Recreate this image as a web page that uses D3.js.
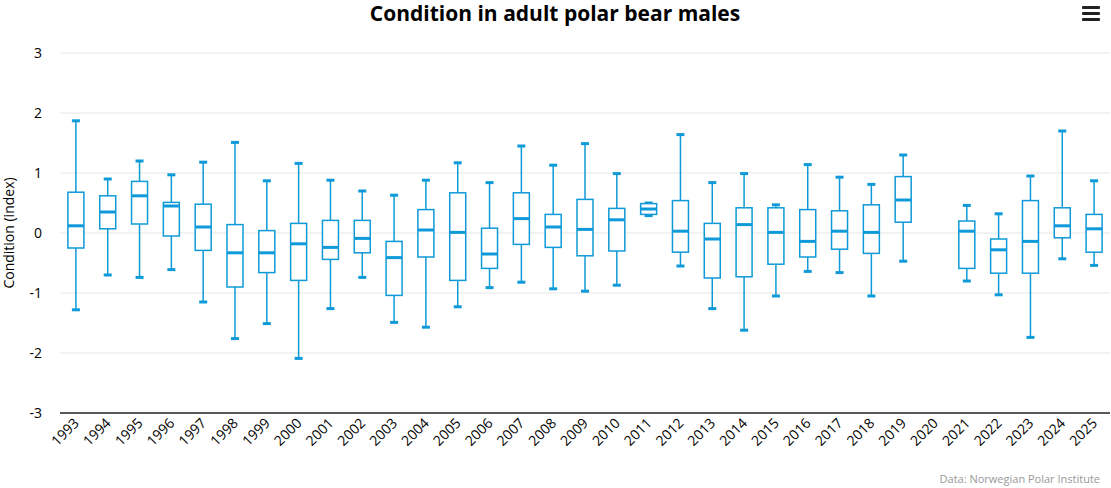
<!DOCTYPE html>
<html><head><meta charset="utf-8">
<script src="https://cdn.jsdelivr.net/npm/d3@7"></script>
<style>body{margin:0;background:#fff;font-family:"Open Sans",sans-serif}</style>
</head><body><svg id="chart" width="1111" height="488"></svg>
<script>
var years = d3.range(1993, 2026).map(String);
var high   = [1.87,0.90,1.20,0.97,1.18,1.51,0.87,1.16,0.88,0.70,0.63,0.88,1.17,0.84,1.45,1.13,1.49,0.99,0.50,1.64,0.84,0.99,0.47,1.14,0.93,0.81,1.30,null,0.46,0.32,0.95,1.70,0.87];
var q3     = [0.68,0.62,0.86,0.51,0.48,0.14,0.04,0.16,0.21,0.21,-0.14,0.39,0.67,0.08,0.67,0.31,0.56,0.41,0.49,0.54,0.16,0.42,0.42,0.39,0.37,0.47,0.94,null,0.20,-0.10,0.54,0.42,0.31];
var median = [0.12,0.35,0.62,0.45,0.10,-0.33,-0.33,-0.18,-0.24,-0.09,-0.41,0.05,0.01,-0.35,0.24,0.10,0.06,0.22,0.40,0.03,-0.10,0.14,0.01,-0.14,0.03,0.01,0.55,null,0.03,-0.28,-0.14,0.12,0.07];
var q1     = [-0.25,0.07,0.15,-0.05,-0.29,-0.90,-0.66,-0.79,-0.44,-0.33,-1.04,-0.40,-0.79,-0.59,-0.19,-0.24,-0.38,-0.30,0.31,-0.32,-0.75,-0.73,-0.52,-0.40,-0.27,-0.34,0.18,null,-0.59,-0.67,-0.67,-0.08,-0.32];
var low    = [-1.28,-0.70,-0.74,-0.61,-1.15,-1.76,-1.51,-2.09,-1.26,-0.74,-1.49,-1.57,-1.23,-0.91,-0.82,-0.93,-0.97,-0.87,0.29,-0.55,-1.26,-1.62,-1.05,-0.64,-0.66,-1.05,-0.47,null,-0.80,-1.03,-1.74,-0.43,-0.54];
var yTicks = [-3,-2,-1,0,1,2,3];

var svg = d3.select("#chart");
var col = "#0e9ad8";
var x = d3.scaleBand().domain(years).range([60, 1110]);
var y = d3.scaleLinear().domain([-3, 3]).range([413, 53]);

svg.append("text").attr("x", 555).attr("y", 21).attr("text-anchor", "middle")
  .style("font-size", "21px").style("font-weight", "bold").text("Condition in adult polar bear males");

// menu icon
svg.append("g").selectAll("rect").data([0,1,2]).enter().append("rect")
  .attr("x", 1082).attr("y", function(d){return 6 + d*6;}).attr("width", 18).attr("height", 3).attr("rx", 1).attr("fill", "#222");

svg.append("g").selectAll("line").data(yTicks.filter(function(d){return d > -3;})).enter().append("line")
  .attr("x1", 60).attr("x2", 1110).attr("y1", function(d){return y(d);}).attr("y2", function(d){return y(d);})
  .attr("stroke", "#e6e6e6");
svg.append("line").attr("x1", 60).attr("x2", 1110).attr("y1", y(-3)).attr("y2", y(-3)).attr("stroke", "#222").attr("stroke-width", 1.5);

svg.append("g").selectAll("text").data(yTicks).enter().append("text")
  .attr("x", 42).attr("y", function(d){return y(d) + 5;}).attr("text-anchor", "end")
  .style("font-size", "14px").text(function(d){return d;});

svg.append("text").attr("transform", "translate(14,233) rotate(-90)").attr("text-anchor", "middle")
  .style("font-size", "14px").text("Condition (index)");

svg.append("g").selectAll("text").data(years).enter().append("text")
  .attr("transform", function(d){return "translate(" + (x(d) + x.bandwidth()/2 + 4) + ",424) rotate(-45)";})
  .attr("text-anchor", "end").style("font-size", "14px").text(function(d){return d;});

var data = years.map(function(d, i){return {year:d, hi:high[i], q3:q3[i], med:median[i], q1:q1[i], lo:low[i]};})
  .filter(function(d){return d.med !== null;});
var g = svg.append("g").selectAll("g").data(data).enter().append("g")
  .attr("transform", function(d){return "translate(" + (x(d.year) + x.bandwidth()/2) + ",0)";});
g.append("line").attr("y1", function(d){return y(d.hi);}).attr("y2", function(d){return y(d.q3);}).attr("stroke", col).attr("stroke-width", 1.5);
g.append("line").attr("y1", function(d){return y(d.q1);}).attr("y2", function(d){return y(d.lo);}).attr("stroke", col).attr("stroke-width", 1.5);
g.append("line").attr("x1", -4).attr("x2", 4).attr("y1", function(d){return y(d.hi);}).attr("y2", function(d){return y(d.hi);}).attr("stroke", col).attr("stroke-width", 3);
g.append("line").attr("x1", -4).attr("x2", 4).attr("y1", function(d){return y(d.lo);}).attr("y2", function(d){return y(d.lo);}).attr("stroke", col).attr("stroke-width", 3);
g.append("rect").attr("x", -8).attr("width", 16).attr("y", function(d){return y(d.q3);})
  .attr("height", function(d){return y(d.q1) - y(d.q3);}).attr("fill", "#fff").attr("stroke", col).attr("stroke-width", 1.5);
g.append("line").attr("x1", -8).attr("x2", 8).attr("y1", function(d){return y(d.med);}).attr("y2", function(d){return y(d.med);}).attr("stroke", col).attr("stroke-width", 3);

svg.append("text").attr("x", 1100).attr("y", 483).attr("text-anchor", "end")
  .style("font-size", "11px").attr("fill", "#999").text("Data: Norwegian Polar Institute");
</script></body></html>
